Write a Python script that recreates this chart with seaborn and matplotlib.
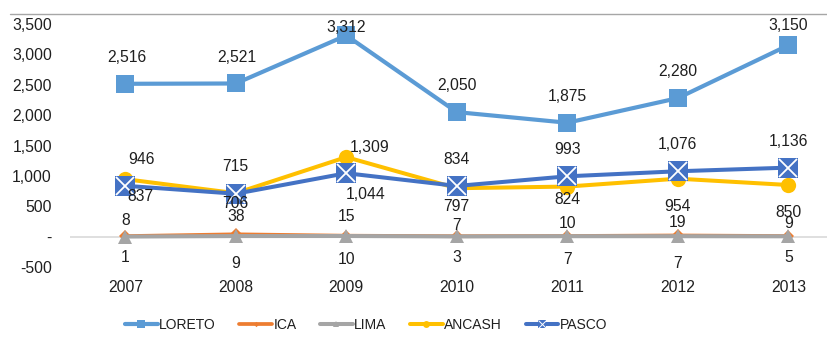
import matplotlib
matplotlib.use("Agg")
import matplotlib.pyplot as plt
import seaborn as sns
import pandas as pd
from matplotlib.lines import Line2D
from matplotlib.legend_handler import HandlerTuple

years = ["2007", "2008", "2009", "2010", "2011", "2012", "2013"]
loreto = [2516, 2521, 3312, 2050, 1875, 2280, 3150]
ica = [8, 38, 15, 7, 10, 19, 9]
lima = [1, 9, 10, 3, 7, 7, 5]
ancash = [946, 715, 1309, 797, 824, 954, 850]
pasco = [837, 706, 1044, 834, 993, 1076, 1136]
yticks = [-500, 0, 500, 1000, 1500, 2000, 2500, 3000, 3500]
ytick_labels = ["-500", "-", "500", "1,000", "1,500", "2,000", "2,500", "3,000", "3,500"]

series = {"LORETO": loreto, "ICA": ica, "LIMA": lima, "ANCASH": ancash, "PASCO": pasco}
colors = {"LORETO": "#5B9BD5", "ICA": "#ED7D31", "LIMA": "#A5A5A5",
          "ANCASH": "#FFC000", "PASCO": "#4472C4"}
markers = {"LORETO": "s", "ICA": "D", "LIMA": "^", "ANCASH": "o", "PASCO": "s"}
msizes = {"LORETO": 12.5, "ICA": 6, "LIMA": 10, "ANCASH": 11, "PASCO": 14}
lwidths = {"LORETO": 3.0, "ICA": 2.7, "LIMA": 2.9, "ANCASH": 2.9, "PASCO": 2.9}

# label offsets in points (layout only)
label_dy = {
    "LORETO": [19, 19, 6, 19, 19, 19, 14],
    "ICA": [11, 13, 14, 8, 9, 9, 9],
    "LIMA": [-15, -20, -17, -15, -17, -20, -15],
    "ANCASH": [14, 19, 7, -13, -9, -20, -20],
    "PASCO": [-8, -7, -15, 19, 19, 19, 19],
}
label_dx = {
    "LORETO": [1, 1, 0, 0, 0, 0, 0],
    "ICA": [0] * 7,
    "LIMA": [0] * 7,
    "ANCASH": [12, 0, 17, 0, 0, 0, 0],
    "PASCO": [11, 0, 14, 0, 0, 0, 0],
}

sns.set_style("white")
plt.rcParams["font.family"] = ["Liberation Sans", "DejaVu Sans"]
txt = "#1F1F1F"

W, H = 827, 343
fig = plt.figure(figsize=(W / 100, H / 100), dpi=100)
ax_left, ax_right, ax_top, ax_bottom = 70, 827, 14, 267
ax = fig.add_axes([ax_left / W, 1 - ax_bottom / H, (ax_right - ax_left) / W, (ax_bottom - ax_top) / H])

ax.axhline(0, color="#D9D9D9", lw=1.2, zorder=1)

x = list(range(len(years)))
z = 2
for name, vals in series.items():
    df = pd.DataFrame({"x": x, "y": vals})
    sns.lineplot(data=df, x="x", y="y", ax=ax, color=colors[name], lw=lwidths[name],
                 marker=markers[name], markersize=msizes[name], markeredgewidth=0,
                 markeredgecolor=colors[name], zorder=z, legend=False)
    if name == "PASCO":
        ax.plot(x, vals, linestyle="none", marker="x", color="white",
                markersize=msizes[name] * 0.95, markeredgewidth=1.3, zorder=z + 0.5)
    z += 1
    for i, v in enumerate(vals):
        ax.annotate(f"{v:,}", (i, v), xytext=(label_dx[name][i], label_dy[name][i]),
                    textcoords="offset points", ha="center", va="center",
                    fontsize=11.3, color=txt, zorder=10)

ax.set_xlim(-0.5, 6.35)
ax.set_ylim(-500, 3665)
ax.set_yticks(yticks)
ax.set_yticklabels(ytick_labels)
ax.set_xticks(x)
ax.set_xticklabels(years)
ax.tick_params(axis="y", length=0, pad=13, labelsize=11.3, labelcolor=txt)
ax.tick_params(axis="x", length=0, pad=9, labelsize=11.3, labelcolor=txt)
ax.set_xlabel("")
ax.set_ylabel("")
for s in ax.spines.values():
    s.set_visible(False)
ax.grid(False)

# top border line
fig.add_artist(Line2D([10 / W, 1], [1 - 14 / H, 1 - 14 / H], color="#A6A6A6", lw=1.0))

handles = []
for name in series:
    h = Line2D([0], [0], color=colors[name], lw=lwidths[name], marker=markers[name],
               markersize=msizes[name] * 0.45, markeredgewidth=0)
    if name == "PASCO":
        h = (h, Line2D([0], [0], linestyle="none", marker="x", color="white",
                       markersize=msizes[name] * 0.4, markeredgewidth=0.7))
    handles.append(h)
fig.legend(handles, list(series.keys()), loc="center", bbox_to_anchor=(366 / W, 1 - 325 / H),
           ncol=5, frameon=False, fontsize=10, handlelength=2.35, handletextpad=0.1,
           columnspacing=1.7, labelcolor=txt,
           handler_map={tuple: HandlerTuple(ndivide=1, pad=0)})

fig.savefig("out.png", dpi=100)
